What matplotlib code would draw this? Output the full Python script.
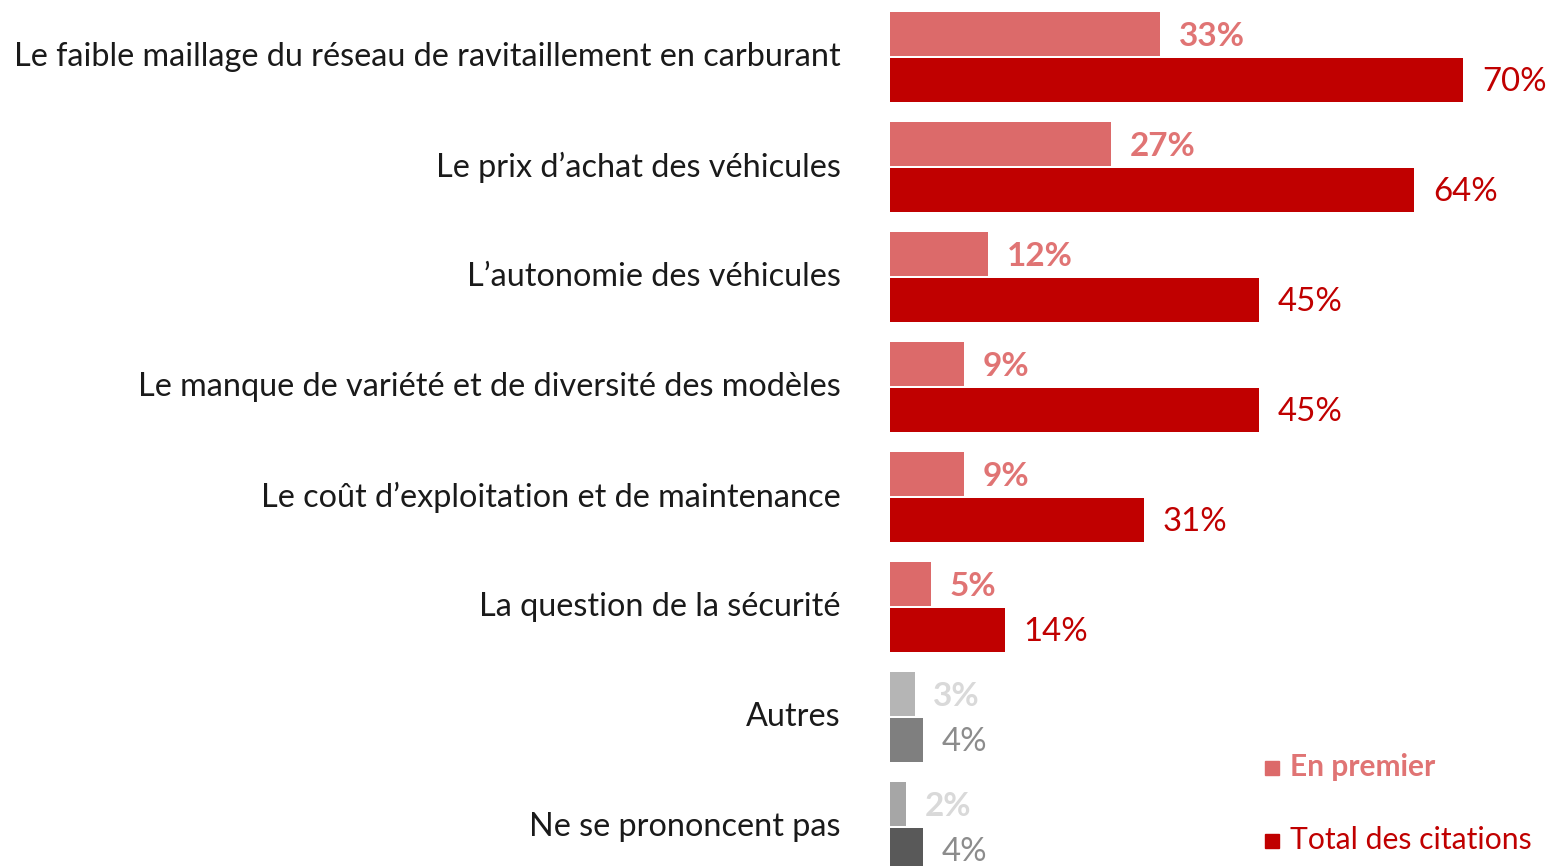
import matplotlib.pyplot as plt

categories = [
    "Le faible maillage du réseau de ravitaillement en carburant",
    "Le prix d\u2019achat des véhicules",
    "L\u2019autonomie des véhicules",
    "Le manque de variété et de diversité des modèles",
    "Le coût d\u2019exploitation et de maintenance",
    "La question de la sécurité",
    "Autres",
    "Ne se prononcent pas",
]
en_premier = [33, 27, 12, 9, 9, 5, 3, 2]
total_citations = [70, 64, 45, 45, 31, 14, 4, 4]

light_colors = ["#DC6A6A"] * 6 + ["#B5B5B5", "#A6A6A6"]
dark_colors = ["#C00000"] * 6 + ["#7F7F7F", "#595959"]
light_text = ["#E07474"] * 6 + ["#D9D9D9", "#D9D9D9"]
dark_text = ["#C00000"] * 6 + ["#8C8C8C", "#8C8C8C"]

plt.rcParams['font.family'] = ['Lato', 'DejaVu Sans']

fig = plt.figure(figsize=(15.48, 8.66), dpi=100)
ax = fig.add_axes([890 / 1548, 0, 1 - 890 / 1548, 1])

pos = list(range(len(categories)))
off = 0.21
h = 0.4
ax.barh([p - off for p in pos], en_premier, height=h, color=light_colors)
ax.barh([p + off for p in pos], total_citations, height=h, color=dark_colors)

for p, v, c in zip(pos, en_premier, light_text):
    ax.text(v + 2.3, p - off + 0.02, f"{v}%", va='center', ha='left',
            fontsize=24, fontweight='bold', color=c)
for p, v, c in zip(pos, total_citations, dark_text):
    ax.text(v + 2.3, p + off + 0.02, f"{v}%", va='center', ha='left',
            fontsize=23.8, color=c)
for p, name in zip(pos, categories):
    ax.text(-6, p, name, va='center', ha='right', fontsize=23.3, color='#1a1a1a')

ax.set_xlim(0, 658 / 8.19)
ax.set_ylim(809 / 110, -57 / 110)
ax.axis('off')

# legend
lx = 1265 / 1548
fig.patches.append(plt.Rectangle((lx, 1 - 775 / 866), 14 / 1548, 14 / 866,
                                 transform=fig.transFigure, color="#DC6A6A"))
fig.text(lx + 25 / 1548, 1 - 767 / 866, "En premier", va='center', ha='left',
         fontsize=21.5, fontweight='bold', color="#E07474")
fig.patches.append(plt.Rectangle((lx, 1 - 848 / 866), 14 / 1548, 14 / 866,
                                 transform=fig.transFigure, color="#C00000"))
fig.text(lx + 25 / 1548, 1 - 840 / 866, "Total des citations", va='center', ha='left',
         fontsize=21.7, color="#C00000")

fig.savefig("out.png", dpi=100)
